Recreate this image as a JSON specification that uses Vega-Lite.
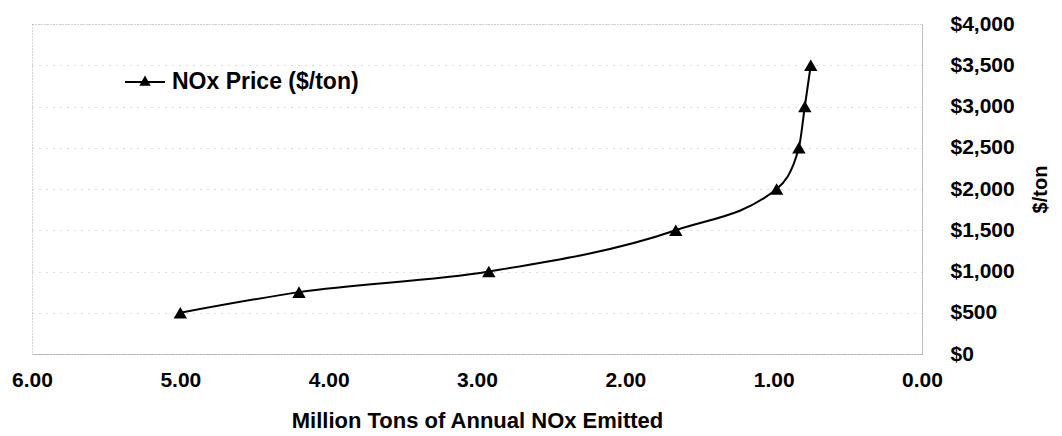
{
  "$schema": "https://vega.github.io/schema/vega-lite/v6.json",
  "width": 890,
  "height": 330,
  "autosize": {"type": "none"},
  "padding": {"left": 32, "top": 24, "right": 140, "bottom": 82},
  "background": "white",
  "config": {
    "font": "Liberation Sans",
    "view": {"stroke": "#aaaaaa", "strokeDash": [1, 2], "strokeWidth": 1}
  },
  "data": {
    "values": [
      {"emitted": 5.0, "price": 500, "series": "NOx Price ($/ton)"},
      {"emitted": 4.2, "price": 750, "series": "NOx Price ($/ton)"},
      {"emitted": 2.92, "price": 1000, "series": "NOx Price ($/ton)"},
      {"emitted": 1.66, "price": 1500, "series": "NOx Price ($/ton)"},
      {"emitted": 0.98, "price": 2000, "series": "NOx Price ($/ton)"},
      {"emitted": 0.83, "price": 2500, "series": "NOx Price ($/ton)"},
      {"emitted": 0.79, "price": 3000, "series": "NOx Price ($/ton)"},
      {"emitted": 0.75, "price": 3500, "series": "NOx Price ($/ton)"}
    ]
  },
  "encoding": {
    "x": {
      "field": "emitted",
      "type": "quantitative",
      "scale": {"domain": [0, 6], "reverse": true, "nice": false},
      "axis": {
        "values": [0, 1, 2, 3, 4, 5, 6],
        "format": ".2f",
        "title": "Million Tons of Annual NOx Emitted",
        "titleFont": "Liberation Sans",
        "titleFontSize": 22,
        "titleFontWeight": "bold",
        "titleColor": "black",
        "titlePadding": 20,
        "labelFont": "Liberation Sans",
        "labelFontSize": 21,
        "labelFontWeight": "bold",
        "labelColor": "black",
        "labelPadding": 15,
        "labelFlush": false,
        "ticks": false,
        "grid": false,
        "domainColor": "#999999",
        "domainDash": [1, 1]
      }
    },
    "y": {
      "field": "price",
      "type": "quantitative",
      "scale": {"domain": [0, 4000], "nice": false},
      "axis": {
        "orient": "right",
        "values": [0, 500, 1000, 1500, 2000, 2500, 3000, 3500, 4000],
        "format": "$,.0f",
        "title": "$/ton",
        "titleAngle": 270,
        "titleX": 118,
        "titleY": 165,
        "titleAlign": "center",
        "titleBaseline": "middle",
        "titleFont": "Liberation Sans",
        "titleFontSize": 20,
        "titleFontWeight": "bold",
        "titleColor": "black",
        "labelFont": "Liberation Sans",
        "labelFontSize": 21,
        "labelFontWeight": "bold",
        "labelColor": "black",
        "labelPadding": 28,
        "ticks": false,
        "grid": true,
        "gridColor": "#bbbbbb",
        "gridDash": [1, 6],
        "domainColor": "#999999",
        "domainDash": [1, 1]
      }
    }
  },
  "layer": [
    {
      "mark": {"type": "line", "interpolate": "monotone", "color": "black", "strokeWidth": 2}
    },
    {
      "mark": {"type": "point", "shape": "triangle-up", "filled": true, "size": 180, "opacity": 1},
      "encoding": {
        "color": {
          "field": "series",
          "type": "nominal",
          "scale": {"range": ["black"]},
          "legend": {
            "title": null,
            "orient": "none",
            "legendX": 92,
            "legendY": 37,
            "symbolType": "M-1,0H1M0,-0.22L0.2,0.14H-0.2Z",
            "symbolSize": 1600,
            "symbolStrokeWidth": 2,
            "symbolStrokeColor": "black",
            "symbolFillColor": "black",
            "labelFont": "Liberation Sans",
            "labelFontSize": 23,
            "labelFontWeight": "bold",
            "labelColor": "black",
            "labelOffset": 6,
            "labelLimit": 300
          }
        }
      }
    }
  ]
}
